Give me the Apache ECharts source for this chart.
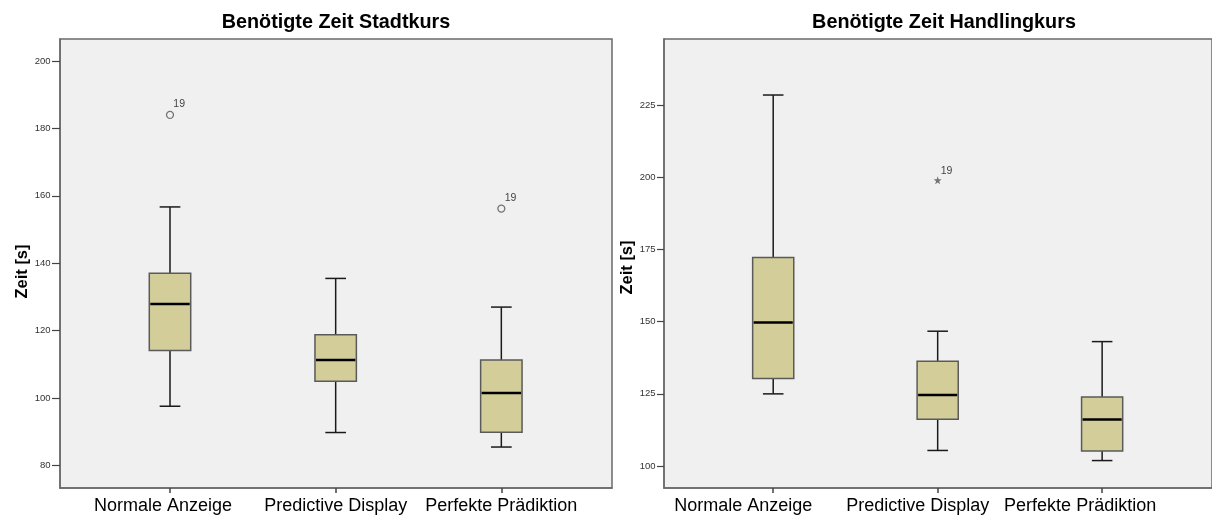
<!DOCTYPE html>
<html>
<head>
<meta charset="utf-8">
<script src="https://cdn.jsdelivr.net/npm/echarts@6/dist/echarts.min.js"></script>
<style>
  html, body { margin: 0; padding: 0; background: #ffffff; }
  #chart { width: 1212px; height: 516px; }
</style>
</head>
<body>
<div id="chart"></div>
<script>
// Conditions on the x axis (shared by both panels)
const categories = ['Normale Anzeige', 'Predictive Display', 'Perfekte Prädiktion'];

// Stadtkurs: [lower whisker, Q1, median, Q3, upper whisker] per condition
const stadtkursBoxes = [
  [97.6, 114.1, 127.9, 137.0, 156.7],
  [89.8, 105.0, 111.3, 118.8, 135.5],
  [85.5, 89.9, 101.5, 111.3, 127.0]
];
// Stadtkurs outliers: [condition index, time, case number]
const stadtkursOutliers = [
  [0, 184.0, '19'],
  [2, 156.2, '19']
];

// Handlingkurs: [lower whisker, Q1, median, Q3, upper whisker] per condition
const handlingBoxes = [
  [125.0, 130.3, 149.7, 172.2, 228.5],
  [105.4, 116.2, 124.6, 136.3, 146.7],
  [101.9, 105.2, 116.1, 123.9, 143.1]
];
// Handlingkurs extreme values: [condition index, time, case number]
const handlingExtremes = [
  [1, 199.0, '19']
];

// Tick labels of the time axes
const stadtkursTicks = [80, 100, 120, 140, 160, 180, 200];
const handlingTicks = [100, 125, 150, 175, 200, 225];
const categoryTicks = [0, 1, 2];

const FONT = 'Liberation Sans, Arial, sans-serif';
const AXIS_GRAY = '#6a6a6a';

const whiskerStyle = { stroke: '#1a1a1a', lineWidth: 1.5 };

function renderBox(params, api) {
  const x = api.value(0);
  const lo = api.coord([x, api.value(1)]);
  const q1 = api.coord([x, api.value(2)]);
  const md = api.coord([x, api.value(3)]);
  const q3 = api.coord([x, api.value(4)]);
  const hi = api.coord([x, api.value(5)]);
  const unit = api.size([1, 0])[0];
  const bw = unit * 0.25;
  const cw = bw / 2;
  const cx = lo[0];
  return {
    type: 'group',
    children: [
      { type: 'line', shape: { x1: cx, y1: hi[1], x2: cx, y2: q3[1] }, style: whiskerStyle },
      { type: 'line', shape: { x1: cx, y1: q1[1], x2: cx, y2: lo[1] }, style: whiskerStyle },
      { type: 'line', shape: { x1: cx - cw / 2, y1: hi[1], x2: cx + cw / 2, y2: hi[1] }, style: whiskerStyle },
      { type: 'line', shape: { x1: cx - cw / 2, y1: lo[1], x2: cx + cw / 2, y2: lo[1] }, style: whiskerStyle },
      {
        type: 'rect',
        shape: { x: cx - bw / 2, y: q3[1], width: bw, height: q1[1] - q3[1] },
        style: { fill: '#d3ce99', stroke: '#5a5a5a', lineWidth: 1.5 }
      },
      {
        type: 'line',
        shape: { x1: cx - bw / 2 + 1, y1: md[1], x2: cx + bw / 2 - 1, y2: md[1] },
        style: { stroke: '#000000', lineWidth: 2.6 }
      }
    ]
  };
}

function withIndex(boxes) {
  return boxes.map((b, i) => [i].concat(b));
}

// shifts: how far each category label sits left of its tick (px)
function xAxisFor(gridIndex, fontSize, shifts) {
  const rich = {};
  shifts.forEach((s, i) => {
    rich['c' + i] = { fontSize: fontSize, fontFamily: FONT, color: '#000', padding: [0, 2 * s, 0, 0] };
  });
  return {
    type: 'value',
    gridIndex: gridIndex,
    min: -0.664,
    max: 2.668,
    axisLine: { show: true, onZero: false, lineStyle: { color: AXIS_GRAY, width: 1.5 } },
    axisTick: { show: true, customValues: categoryTicks, length: 5, lineStyle: { color: '#444', width: 1.5 } },
    axisLabel: {
      customValues: categoryTicks,
      formatter: v => {
        const i = Math.round(v);
        return '{c' + i + '|' + categories[i] + '}';
      },
      rich: rich,
      margin: 9,
      fontSize: fontSize,
      color: '#000',
      fontFamily: FONT
    },
    splitLine: { show: false }
  };
}

function yAxisFor(gridIndex, min, max, ticks, namePad, tickLen) {
  return {
    type: 'value',
    gridIndex: gridIndex,
    min: min,
    max: max,
    name: 'Zeit [s]',
    nameLocation: 'middle',
    nameGap: 28,
    nameTextStyle: {
      fontFamily: FONT,
      fontWeight: 'bold',
      fontSize: 16.5,
      color: '#000',
      padding: [0, namePad, 0, 0]
    },
    axisLine: { show: true, onZero: false, lineStyle: { color: AXIS_GRAY, width: 1.5 } },
    axisTick: { show: true, customValues: ticks, length: tickLen, lineStyle: { color: '#444', width: 1.2 } },
    axisLabel: { customValues: ticks, margin: tickLen + 1.5, fontSize: 9.5, color: '#333', fontFamily: FONT },
    splitLine: { show: false }
  };
}

const outlierLabel = {
  show: true,
  formatter: p => p.value[2],
  position: [7.5, -6.5],
  align: 'left',
  verticalAlign: 'middle',
  fontSize: 10.5,
  color: '#111',
  fontFamily: FONT
};

const starPath = 'path://M10 0 L12.35 6.76 L19.51 6.91 L13.8 11.24 L15.88 18.09 L10 14 L4.12 18.09 L6.2 11.24 L0.49 6.91 L7.65 6.76 Z';

const titleStyle = { fontFamily: FONT, fontWeight: 'bold', fontSize: 19.8, color: '#000' };

const chart = echarts.init(document.getElementById('chart'), null, { renderer: 'canvas' });

chart.setOption({
  animation: false,
  backgroundColor: '#ffffff',
  title: [
    { text: 'Benötigte Zeit Stadtkurs', left: 331, top: 8, textAlign: 'center', textStyle: titleStyle },
    { text: 'Benötigte Zeit Handlingkurs', left: 939, top: 8, textAlign: 'center', textStyle: titleStyle }
  ],
  grid: [
    {
      left: 60, width: 552, top: 39, height: 449,
      show: true, backgroundColor: '#f0f0f0', borderColor: AXIS_GRAY, borderWidth: 1.5
    },
    {
      left: 664, width: 552, top: 39, height: 449,
      show: true, backgroundColor: '#f0f0f0', borderColor: AXIS_GRAY, borderWidth: 1.5
    }
  ],
  xAxis: [
    xAxisFor(0, 18, [7, 0, 0]),
    xAxisFor(1, 18, [30, 20, 22])
  ],
  yAxis: [
    yAxisFor(0, 73.35, 206.5, stadtkursTicks, 16, 8),
    yAxisFor(1, 92.4, 247.9, handlingTicks, 8, 7)
  ],
  series: [
    {
      type: 'custom',
      name: 'Stadtkurs',
      xAxisIndex: 0,
      yAxisIndex: 0,
      renderItem: renderBox,
      encode: { x: 0, y: [1, 2, 3, 4, 5] },
      data: withIndex(stadtkursBoxes),
      z: 2
    },
    {
      type: 'scatter',
      name: 'Stadtkurs Ausreißer',
      xAxisIndex: 0,
      yAxisIndex: 0,
      symbol: 'circle',
      symbolSize: 7,
      itemStyle: { color: 'rgba(0,0,0,0)', borderColor: '#555', borderWidth: 1.3 },
      label: outlierLabel,
      data: stadtkursOutliers,
      z: 3
    },
    {
      type: 'custom',
      name: 'Handlingkurs',
      xAxisIndex: 1,
      yAxisIndex: 1,
      renderItem: renderBox,
      encode: { x: 0, y: [1, 2, 3, 4, 5] },
      data: withIndex(handlingBoxes),
      z: 2
    },
    {
      type: 'scatter',
      name: 'Handlingkurs Extremwerte',
      xAxisIndex: 1,
      yAxisIndex: 1,
      symbol: starPath,
      symbolSize: 8,
      itemStyle: { color: '#555' },
      label: Object.assign({}, outlierLabel, { position: [7, -5] }),
      data: handlingExtremes,
      z: 3
    }
  ]
});
</script>
</body>
</html>
